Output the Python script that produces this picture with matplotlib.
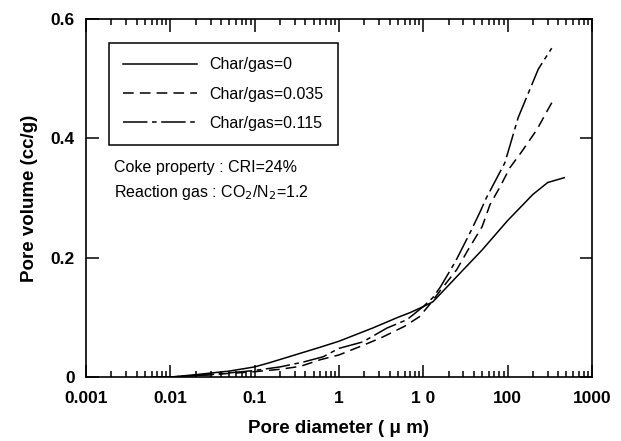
import matplotlib
matplotlib.use("Agg")
import matplotlib.pyplot as plt
from matplotlib.ticker import LogLocator, FixedLocator, FixedFormatter, NullFormatter

plt.rcParams["font.family"] = ["Liberation Sans", "DejaVu Sans"]

# Char/gas = 0 (solid)
d_0 = [0.006, 0.01, 0.02, 0.05, 0.1, 0.15, 0.3, 0.6, 1, 2.5, 5, 7, 10, 13,
       22, 50, 100, 200, 300, 470]
v_0 = [0.0, 0.0, 0.004, 0.010, 0.017, 0.024, 0.037, 0.050, 0.060, 0.082,
       0.100, 0.108, 0.118, 0.126, 0.160, 0.213, 0.262, 0.306, 0.326, 0.334]

# Char/gas = 0.035 (dashed)
d_035 = [0.006, 0.01, 0.03, 0.1, 0.2, 0.35, 0.6, 1, 2, 3.3, 6, 9, 12, 17,
         25, 34, 50, 62, 81, 107, 148, 224, 293, 355]
v_035 = [0.0, 0.0, 0.004, 0.009, 0.013, 0.018, 0.029, 0.037, 0.054, 0.067,
         0.085, 0.101, 0.122, 0.150, 0.180, 0.213, 0.252, 0.289, 0.318,
         0.351, 0.378, 0.415, 0.445, 0.466]

# Char/gas = 0.115 (dash-dot)
d_115 = [0.006, 0.01, 0.03, 0.1, 0.2, 0.375, 0.65, 1, 1.93, 3.7, 6.4, 10,
         13, 16, 24, 36, 47, 56, 93, 134, 232, 334]
v_115 = [0.0, 0.0, 0.004, 0.011, 0.017, 0.025, 0.034, 0.048, 0.059, 0.082,
         0.096, 0.118, 0.133, 0.151, 0.193, 0.242, 0.276, 0.300, 0.359,
         0.435, 0.516, 0.551]

labels = ["Char/gas=0", "Char/gas=0.035", "Char/gas=0.115"]
xtick_vals = [0.001, 0.01, 0.1, 1, 10, 100, 1000]
xtick_text = ["0.001", "0.01", "0.1", "1", "1 0", "100", "1000"]
ytick_vals = [0, 0.2, 0.4, 0.6]
ytick_text = ["0", "0.2", "0.4", "0.6"]

fig = plt.figure(figsize=(6.21, 4.41), dpi=100)
ax = fig.add_axes([0.1385, 0.145, 0.8145, 0.812])

lw = 1.1
ax.plot(d_0, v_0, color="black", lw=lw, ls="-", label=labels[0])
ax.plot(d_035, v_035, color="black", lw=lw, ls=(0, (7, 4)), label=labels[1])
ax.plot(d_115, v_115, color="black", lw=lw, ls=(0, (16, 3, 3, 3)), label=labels[2])

ax.set_xscale("log")
ax.set_xlim(0.001, 1000)
ax.set_ylim(0, 0.6)

ax.xaxis.set_major_locator(FixedLocator(xtick_vals))
ax.xaxis.set_major_formatter(FixedFormatter(xtick_text))
ax.xaxis.set_minor_locator(LogLocator(base=10, subs=range(2, 10), numticks=20))
ax.xaxis.set_minor_formatter(NullFormatter())
ax.yaxis.set_major_locator(FixedLocator(ytick_vals))
ax.yaxis.set_major_formatter(FixedFormatter(ytick_text))

ax.tick_params(which="both", direction="in", top=True, right=True, width=1.1,
               labelsize=12.5)
ax.tick_params(axis="x", pad=10)
ax.tick_params(axis="y", pad=8)
ax.tick_params(which="major", length=9)
ax.tick_params(which="minor", length=4)
for lab in ax.get_xticklabels() + ax.get_yticklabels():
    lab.set_fontweight("bold")
for s in ax.spines.values():
    s.set_linewidth(1.2)

ax.set_xlabel("Pore diameter ( \u03bc m)", fontsize=13.5, fontweight="bold", labelpad=10)
ax.set_ylabel("Pore volume (cc/g)", fontsize=13.5, fontweight="bold", labelpad=9)

leg = ax.legend(loc="upper left", bbox_to_anchor=(0.045, 0.933), fontsize=11.5,
                frameon=True, fancybox=False, edgecolor="black", framealpha=1,
                handlelength=4.6, handletextpad=0.8, labelspacing=0.9,
                borderpad=0.9, borderaxespad=0)
leg.get_frame().set_linewidth(1.1)

ax.text(0.055, 0.585, "Coke property : CRI=24%", transform=ax.transAxes,
        fontsize=11.5, va="center")
ax.text(0.055, 0.515, "Reaction gas : CO$_2$/N$_2$=1.2", transform=ax.transAxes,
        fontsize=11.5, va="center")

fig.savefig("out.png", dpi=100)
